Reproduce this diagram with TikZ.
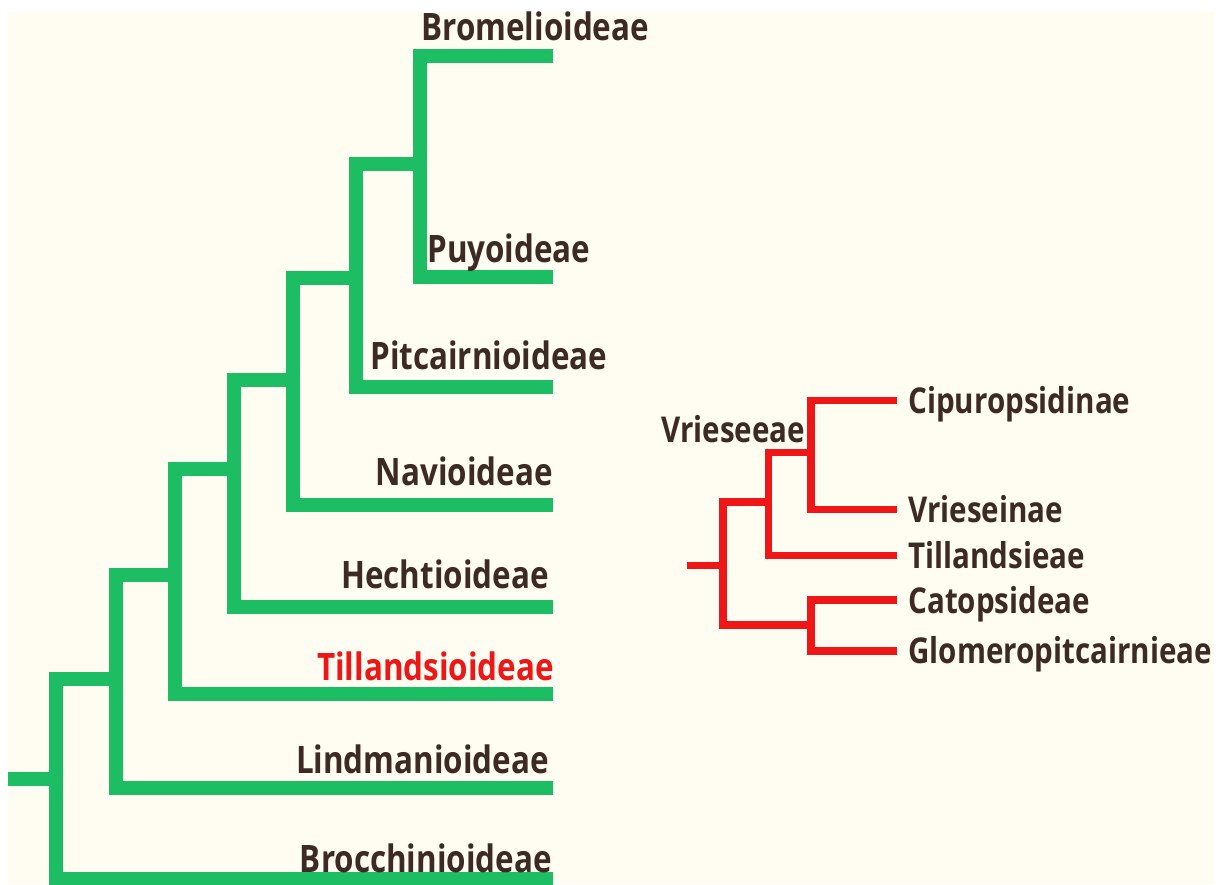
\documentclass[tikz,border=0pt]{standalone}
\usepackage{fontspec}
\newfontfamily\negrita{Open Sans}[FakeStretch=0.83]
\usepackage{tikz}

\definecolor{ramaverde}{RGB}{29,190,99}
\definecolor{ramaroja}{RGB}{238,22,22}
\definecolor{texto}{RGB}{60,42,35}
\definecolor{fondo}{RGB}{255,252,241}

\begin{document}
\begin{tikzpicture}[x=0.5pt,y=-0.5pt,
    verde/.style={draw=ramaverde,line width=7pt},
    roja/.style={draw=ramaroja,line width=3.75pt},
    grupo/.style={font=\negrita\bfseries\fontsize{18.9}{20}\selectfont,text=texto,inner sep=0pt},
    tribu/.style={font=\negrita\bfseries\fontsize{17.8}{19}\selectfont,text=texto,inner sep=0pt}]
    % Marco y fondo.
    \fill[white] (0,0) rectangle (1226,884);
    \fill[fondo] (8,12) rectangle (1214,884);
    \useasboundingbox (0,0) rectangle (1226,884);

    % Árbol de las subfamilias.
    \coordinate (raiz) at (8,779);
    \coordinate (g1) at (55.5,779);
    \coordinate (g2) at (116,679);
    \coordinate (g3) at (174.5,575);
    \coordinate (g4) at (234,469);
    \coordinate (g5) at (293,380);
    \coordinate (g6) at (356,278);
    \coordinate (g7) at (419.5,164);
    \coordinate (bromel) at (553,56);
    \coordinate (puyo) at (553,277);
    \coordinate (pitc) at (553,387);
    \coordinate (navio) at (553,505);
    \coordinate (hecht) at (553,607);
    \coordinate (tilla) at (553,694);
    \coordinate (lindm) at (553,788);
    \coordinate (brocc) at (553,879);

    \draw[verde] (raiz) -- (g1);
    \foreach \a/\b in {g1/g2,g1/brocc,g2/g3,g2/lindm,g3/g4,g3/tilla,
        g4/g5,g4/hecht,g5/g6,g5/navio,g6/g7,g6/pitc,g7/bromel,g7/puyo}{
        \draw[verde] (\a) |- (\b);
    }

    \node[grupo,anchor=base west] (nbromel) at (421,40) {Bromelioideae};
    \node[grupo,anchor=base west] (npuyo) at (427,262) {Puyoideae};
    \node[grupo,anchor=base west] (npitc) at (370,369) {Pitcairnioideae};
    \node[grupo,anchor=base east] (nnavio) at (553,485) {Navioideae};
    \node[grupo,anchor=base east] (nhecht) at (549,588) {Hechtioideae};
    \node[grupo,anchor=base east,text=ramaroja] (ntilla) at (554,680) {Tillandsioideae};
    \node[grupo,anchor=base east] (nlindm) at (549,773) {Lindmanioideae};
    \node[grupo,anchor=base east] (nbrocc) at (552,872) {Brocchinioideae};

    % Árbol de las tribus de Tillandsioideae.
    \coordinate (rraiz) at (687,565.5);
    \coordinate (r1) at (723,565.5);
    \coordinate (r2) at (768.5,502);
    \coordinate (r3) at (811,452.5);
    \coordinate (r4) at (811,625);
    \coordinate (cipu) at (897,400.5);
    \coordinate (vries) at (897,509.5);
    \coordinate (tillae) at (897,555.5);
    \coordinate (catop) at (897,600);
    \coordinate (glome) at (897,651);

    \draw[roja] (rraiz) -- (r1);
    \foreach \a/\b in {r1/r2,r1/r4,r2/r3,r2/tillae,r3/cipu,r3/vries,r4/catop,r4/glome}{
        \draw[roja] (\a) |- (\b);
    }

    \node[tribu,anchor=base west] (nvrieseeae) at (661,442) {Vrieseeae};
    \node[tribu,anchor=base west] (ncipu) at (908,413) {Cipuropsidinae};
    \node[tribu,anchor=base west] (nvries) at (908,522) {Vrieseinae};
    \node[tribu,anchor=base west] (ntillae) at (908,568) {Tillandsieae};
    \node[tribu,anchor=base west] (ncatop) at (908,613) {Catopsideae};
    \node[tribu,anchor=base west] (nglome) at (908,663) {Glomeropitcairnieae};
\end{tikzpicture}
\end{document}
